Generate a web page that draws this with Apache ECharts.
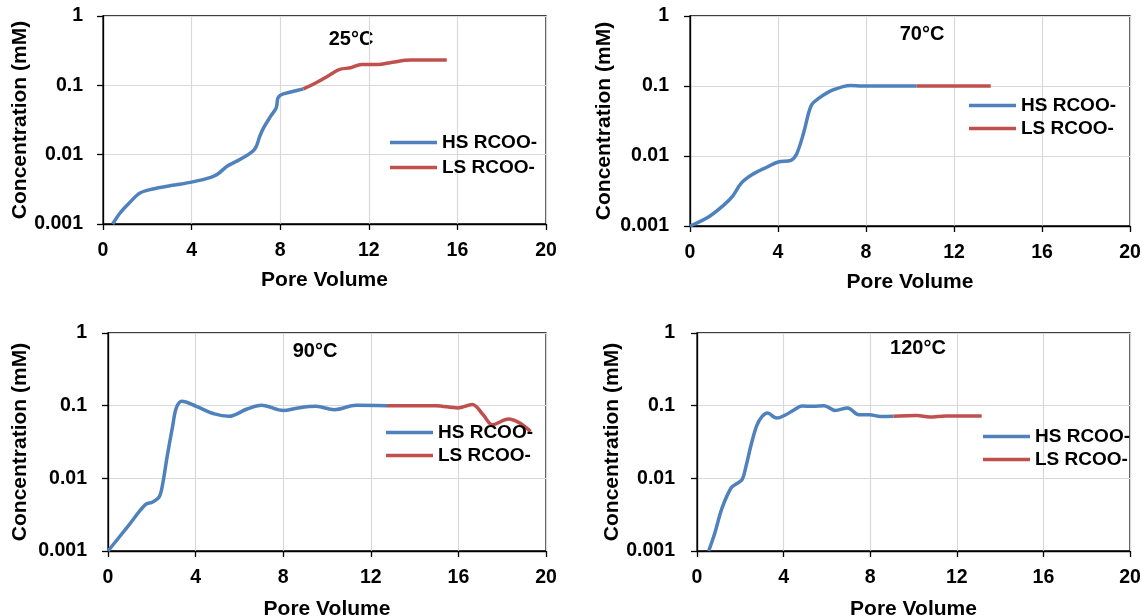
<!DOCTYPE html>
<html>
<head>
<meta charset="utf-8">
<script src="https://cdn.jsdelivr.net/npm/echarts@6/dist/echarts.min.js"></script>
<style>
html,body{margin:0;padding:0;background:#fff;}
#chart{width:1142px;height:616px;}
</style>
</head>
<body>
<div id="chart"></div>
<script>
// ---------- data ----------
const panelTitles = ['25°C', '70°C', '90°C', '120°C'];
const seriesNames = ['HS RCOO-', 'LS RCOO-'];
const xTicks = [0, 4, 8, 12, 16, 20];
const yTickLabels = ['0.001', '0.01', '0.1', '1'];

// 25°C
const pv25HS = [0.44, 0.77, 1.18, 1.67, 2.25, 3.07, 4.05, 4.87, 5.2, 5.6, 6.18, 6.84, 7.08, 7.25, 7.57, 7.82, 7.9, 8.07, 8.48, 9.05];
const c25HS  = [0.001, 0.00144, 0.002, 0.0028, 0.0032, 0.00358, 0.00405, 0.0047, 0.0053, 0.0068, 0.0085, 0.0119, 0.0185, 0.0244, 0.0359, 0.0474, 0.066, 0.0738, 0.080, 0.089];
const pv25LS = [9.05, 9.62, 10.2, 10.69, 11.18, 11.67, 12.4, 13.07, 13.89, 15.52];
const c25LS  = [0.089, 0.109, 0.139, 0.17, 0.179, 0.2, 0.2, 0.216, 0.231, 0.231];

// 70°C
const pv70HS = [0, 0.86, 1.52, 1.94, 2.35, 2.85, 3.51, 4.01, 4.59, 4.84, 5.17, 5.5, 5.83, 6.5, 7.3, 7.82, 10.3];
const c70HS  = [0.001, 0.00136, 0.00197, 0.00268, 0.00416, 0.00547, 0.00697, 0.0082, 0.00867, 0.01057, 0.0216, 0.0518, 0.0659, 0.0877, 0.102, 0.1, 0.1];
const pv70LS = [10.3, 13.67];
const c70LS  = [0.1, 0.1];

// 90°C
const pv90HS = [0, 0.88, 1.71, 2.04, 2.34, 2.5, 2.7, 2.95, 3.12, 3.37, 4.03, 4.86, 5.52, 6.35, 7.01, 8.01, 8.67, 9.5, 10.33, 11.33, 12.74];
const c90HS  = [0.001, 0.00213, 0.00435, 0.00473, 0.00555, 0.0085, 0.0199, 0.0519, 0.093, 0.115, 0.098, 0.077, 0.0714, 0.090, 0.101, 0.0855, 0.093, 0.098, 0.088, 0.101, 0.1];
const pv90LS = [12.74, 14.97, 15.97, 16.63, 17.13, 17.55, 18.29, 18.79, 19.29];
const c90LS  = [0.1, 0.1, 0.093, 0.104, 0.075, 0.0547, 0.0656, 0.058, 0.0443];

// 120°C
const pv120HS = [0.54, 0.82, 1.16, 1.58, 1.83, 2.09, 2.25, 2.51, 2.76, 3.01, 3.26, 3.68, 4.1, 4.44, 4.86, 5.37, 5.87, 6.38, 6.96, 7.47, 7.97, 8.48, 9.07];
const c120HS  = [0.001, 0.00176, 0.00392, 0.00742, 0.00843, 0.00968, 0.0141, 0.0297, 0.0533, 0.0711, 0.079, 0.0674, 0.075, 0.086, 0.099, 0.098, 0.1, 0.086, 0.093, 0.075, 0.075, 0.071, 0.0715];
const pv120LS = [9.07, 10.16, 10.75, 11.5, 13.15];
const c120LS  = [0.0715, 0.073, 0.0697, 0.072, 0.072];

const hsX = [pv25HS, pv70HS, pv90HS, pv120HS];
const hsY = [c25HS, c70HS, c90HS, c120HS];
const lsX = [pv25LS, pv70LS, pv90LS, pv120LS];
const lsY = [c25LS, c70LS, c90LS, c120LS];

// ---------- layout ----------
const FONT = '"Liberation Sans", Arial, sans-serif';
const grids = [
  {left: 103, top: 16, width: 443, height: 208},
  {left: 690, top: 16, width: 440, height: 210},
  {left: 108, top: 333, width: 438, height: 218},
  {left: 697, top: 333, width: 433, height: 218}
];
const yNameGap = [72, 75, 77, 73];
const yLabelMargin = [20, 21, 21, 22];
const xLabelMargin = [17, 17, 17, 17];
const xNameGap = [46, 46, 48, 48];
const titlePos = [[351, 39], [922, 34], [315, 351], [918, 348]];
const legendPos = [[390, 133, 6], [969, 96, 4], [386, 423, 4], [983, 427, 4]];

const BLUE = '#4F81BD', RED = '#C0504D';

function pairs(xs, ys) { return xs.map((x, i) => [x, ys[i]]); }

const option = {
  animation: false,
  textStyle: {fontFamily: FONT},
  grid: grids.map(g => Object.assign({containLabel: false, outerBoundsMode: 'none', show: true, borderColor: '#000', borderWidth: 1.3, backgroundColor: 'transparent'}, g)),
  xAxis: grids.map((g, i) => ({
    type: 'value', gridIndex: i, min: 0, max: 20, interval: 4,
    name: 'Pore Volume', nameLocation: 'middle', nameGap: xNameGap[i],
    nameTextStyle: {fontFamily: FONT, fontWeight: 'bold', fontSize: 21, color: '#000'},
    axisLine: {show: true, onZero: false, lineStyle: {color: '#000', width: 1.3}},
    axisTick: {show: true, inside: false, length: 6, lineStyle: {color: '#000', width: 1.3}},
    axisLabel: {fontFamily: FONT, fontWeight: 'bold', fontSize: 19.5, color: '#000', margin: xLabelMargin[i],
      formatter: v => String(xTicks.find(t => Math.abs(t - v) < 1e-6) ?? v)},
    splitLine: {show: true, lineStyle: {color: '#d9d9d9', width: 1.2}}
  })),
  yAxis: grids.map((g, i) => ({
    type: 'log', logBase: 10, gridIndex: i, min: 0.001, max: 1,
    name: 'Concentration (mM)', nameLocation: 'middle', nameGap: yNameGap[i], nameRotate: 90,
    nameTextStyle: {fontFamily: FONT, fontWeight: 'bold', fontSize: 21, color: '#000'},
    axisLine: {show: true, onZero: false, lineStyle: {color: '#000', width: 1.3}},
    axisTick: {show: true, inside: false, length: 6, lineStyle: {color: '#000', width: 1.3}},
    axisLabel: {fontFamily: FONT, fontWeight: 'bold', fontSize: 19.5, color: '#000', margin: yLabelMargin[i],
      formatter: v => {
        const k = Math.round(Math.log10(v)) + 3;
        return yTickLabels[k] !== undefined ? yTickLabels[k] : String(v);
      }},
    splitLine: {show: true, lineStyle: {color: '#d9d9d9', width: 1.2}},
    minorTick: {show: false}, minorSplitLine: {show: false}
  })),
  legend: legendPos.map(p => ({
    data: seriesNames, orient: 'vertical', left: p[0], top: p[1], itemGap: p[2],
    icon: 'rect', itemWidth: 47, itemHeight: 3.5, padding: 0,
    textStyle: {fontFamily: FONT, fontWeight: 'bold', fontSize: 19, color: '#000', padding: [0, 0, 0, 0]},
    selectedMode: false
  })),
  graphic: titlePos.map((p, i) => ({
    type: 'text', x: p[0], y: p[1],
    style: {text: panelTitles[i], align: 'center', verticalAlign: 'middle',
      font: 'bold 20px ' + FONT, fill: '#000'}
  })),
  series: []
};

for (let i = 0; i < 4; i++) {
  option.series.push({
    name: seriesNames[0], type: 'line', xAxisIndex: i, yAxisIndex: i,
    data: pairs(hsX[i], hsY[i]), smooth: 0.35, showSymbol: false, symbol: 'none',
    lineStyle: {color: BLUE, width: 3.5}, itemStyle: {color: BLUE}, z: 3
  });
  option.series.push({
    name: seriesNames[1], type: 'line', xAxisIndex: i, yAxisIndex: i,
    data: pairs(lsX[i], lsY[i]), smooth: 0.35, showSymbol: false, symbol: 'none',
    lineStyle: {color: RED, width: 3.5}, itemStyle: {color: RED}, z: 3
  });
}

const chart = echarts.init(document.getElementById('chart'), null, {renderer: 'canvas'});
chart.setOption(option);
</script>
</body>
</html>
